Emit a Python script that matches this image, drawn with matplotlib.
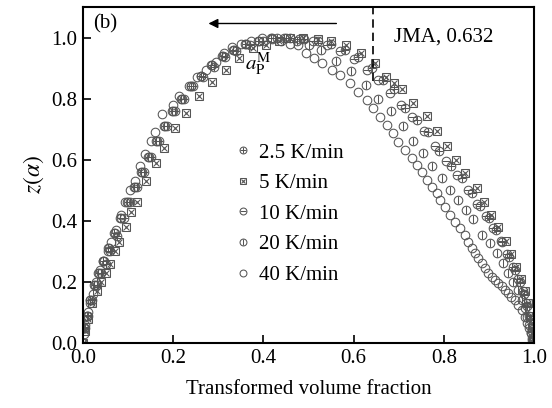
import matplotlib
matplotlib.use("Agg")
import matplotlib.pyplot as plt
from matplotlib.lines import Line2D
from matplotlib.legend_handler import HandlerTuple

plt.rcParams['font.family'] = ['Liberation Serif', 'DejaVu Serif']
plt.rcParams['mathtext.fontset'] = 'stix'

labels = ["2.5 K/min", "5 K/min", "10 K/min", "20 K/min", "40 K/min"]

# 2.5 K/min
a_25 = [0.0, 0.004, 0.01, 0.02, 0.03, 0.04, 0.05, 0.06, 0.075, 0.09, 0.105, 0.12, 0.135, 0.15,
        0.168, 0.186, 0.205, 0.225, 0.245, 0.265, 0.29, 0.315, 0.34, 0.37, 0.4, 0.43, 0.46, 0.49,
        0.52, 0.55, 0.58, 0.61, 0.64, 0.665, 0.69, 0.715, 0.74, 0.765, 0.79, 0.815, 0.84, 0.862,
        0.88, 0.9, 0.915, 0.93, 0.945, 0.958, 0.968, 0.977, 0.985, 0.991, 0.996, 0.999]
z_25 = [0.0, 0.05, 0.09, 0.14, 0.19, 0.23, 0.26, 0.30, 0.35, 0.41, 0.46, 0.51, 0.56, 0.61,
        0.66, 0.71, 0.76, 0.80, 0.84, 0.87, 0.905, 0.935, 0.955, 0.975, 0.99, 1.0, 1.0, 0.995,
        0.99, 0.98, 0.96, 0.935, 0.90, 0.86, 0.83, 0.77, 0.73, 0.69, 0.63, 0.58, 0.54, 0.49,
        0.45, 0.41, 0.37, 0.33, 0.28, 0.24, 0.20, 0.16, 0.12, 0.08, 0.04, 0.01]

# 5 K/min
a_5 = [0.0, 0.005, 0.01, 0.02, 0.03, 0.04, 0.05, 0.06, 0.07, 0.08, 0.095, 0.107, 0.12, 0.14,
       0.162, 0.18, 0.204, 0.229, 0.258, 0.287, 0.318, 0.347, 0.376, 0.406, 0.435, 0.46, 0.487,
       0.52, 0.55, 0.584, 0.617, 0.647, 0.671, 0.689, 0.708, 0.732, 0.762, 0.784, 0.806, 0.828,
       0.847, 0.873, 0.89, 0.905, 0.92, 0.937, 0.95, 0.961, 0.971, 0.979, 0.986, 0.991, 0.995, 0.998]
z_5 = [0.0, 0.04, 0.08, 0.13, 0.17, 0.20, 0.23, 0.26, 0.30, 0.33, 0.38, 0.43, 0.46, 0.53,
       0.59, 0.64, 0.705, 0.754, 0.807, 0.856, 0.895, 0.934, 0.967, 0.977, 0.99, 1.0, 1.0,
       0.995, 0.99, 0.977, 0.95, 0.917, 0.87, 0.85, 0.83, 0.786, 0.742, 0.693, 0.644, 0.60,
       0.556, 0.507, 0.46, 0.42, 0.38, 0.335, 0.29, 0.25, 0.21, 0.17, 0.13, 0.09, 0.05, 0.01]

# 10 K/min
a_10 = [0.0, 0.003, 0.008, 0.016, 0.026, 0.036, 0.046, 0.057, 0.07, 0.085, 0.1, 0.115, 0.13, 0.146,
        0.163, 0.181, 0.2, 0.22, 0.24, 0.262, 0.285, 0.31, 0.335, 0.362, 0.39, 0.42, 0.45, 0.48,
        0.51, 0.54, 0.57, 0.60, 0.63, 0.655, 0.68, 0.705, 0.73, 0.755, 0.78, 0.805, 0.83, 0.853,
        0.873, 0.893, 0.91, 0.926, 0.941, 0.954, 0.965, 0.975, 0.983, 0.99, 0.995, 0.999]
z_10 = [0.0, 0.05, 0.09, 0.14, 0.19, 0.23, 0.27, 0.31, 0.36, 0.41, 0.46, 0.51, 0.56, 0.61,
        0.66, 0.71, 0.76, 0.80, 0.84, 0.875, 0.91, 0.94, 0.96, 0.98, 0.99, 1.0, 1.0, 0.995,
        0.99, 0.975, 0.955, 0.93, 0.895, 0.86, 0.82, 0.78, 0.74, 0.695, 0.645, 0.595, 0.55, 0.50,
        0.455, 0.415, 0.375, 0.335, 0.29, 0.25, 0.21, 0.17, 0.13, 0.09, 0.05, 0.015]

# 20 K/min
a_20 = [0.0, 0.003, 0.008, 0.015, 0.024, 0.034, 0.044, 0.055, 0.068, 0.082, 0.097, 0.112, 0.128,
        0.144, 0.161, 0.179, 0.198, 0.218, 0.239, 0.261, 0.284, 0.308, 0.333, 0.36, 0.388, 0.417,
        0.446, 0.475, 0.502, 0.528, 0.561, 0.595, 0.628, 0.655, 0.684, 0.71, 0.732, 0.754, 0.773,
        0.795, 0.813, 0.832, 0.85, 0.865, 0.884, 0.902, 0.917, 0.932, 0.943, 0.954, 0.965, 0.973,
        0.98, 0.985, 0.99, 0.993, 0.996]
z_20 = [0.0, 0.05, 0.09, 0.14, 0.19, 0.23, 0.27, 0.31, 0.36, 0.41, 0.46, 0.51, 0.56, 0.61,
        0.66, 0.71, 0.76, 0.80, 0.84, 0.875, 0.91, 0.94, 0.96, 0.98, 0.99, 1.0, 1.0, 0.99, 0.975,
        0.958, 0.922, 0.89, 0.846, 0.80, 0.758, 0.709, 0.66, 0.622, 0.578, 0.54, 0.502, 0.469,
        0.436, 0.405, 0.354, 0.327, 0.294, 0.261, 0.229, 0.201, 0.174, 0.141, 0.114, 0.086,
        0.059, 0.032, 0.01]

# 40 K/min
a_40 = [0.0, 0.002, 0.005, 0.011, 0.016, 0.022, 0.029, 0.037, 0.044, 0.055, 0.063, 0.073, 0.084,
        0.093, 0.104, 0.116, 0.126, 0.138, 0.15, 0.16, 0.176, 0.2, 0.213, 0.236, 0.253, 0.273,
        0.295, 0.313, 0.33, 0.35, 0.373, 0.398, 0.42, 0.44, 0.458, 0.476, 0.495, 0.513, 0.531,
        0.551, 0.569, 0.591, 0.609, 0.629, 0.642, 0.658, 0.673, 0.687, 0.698, 0.713, 0.729, 0.74,
        0.751, 0.762, 0.773, 0.784, 0.791, 0.802, 0.813, 0.824, 0.836, 0.847, 0.854, 0.862, 0.869,
        0.876, 0.884, 0.891, 0.898, 0.906, 0.913, 0.921, 0.928, 0.936, 0.943, 0.95, 0.958, 0.965,
        0.973, 0.98, 0.985, 0.99, 0.993, 0.995, 0.998]
z_40 = [0.0, 0.03, 0.06, 0.10, 0.13, 0.16, 0.20, 0.24, 0.27, 0.30, 0.33, 0.37, 0.42,
        0.46, 0.50, 0.53, 0.58, 0.62, 0.66, 0.69, 0.75, 0.78, 0.81, 0.84, 0.87, 0.895,
        0.92, 0.95, 0.97, 0.98, 0.99, 1.0, 0.995, 0.99, 0.98, 0.977, 0.95, 0.934, 0.918,
        0.895, 0.879, 0.852, 0.823, 0.797, 0.77, 0.741, 0.715, 0.689, 0.659, 0.633, 0.607, 0.584,
        0.561, 0.534, 0.511, 0.492, 0.469, 0.446, 0.420, 0.397, 0.377, 0.355, 0.330, 0.31, 0.294,
        0.278, 0.261, 0.245, 0.229, 0.217, 0.207, 0.196, 0.185, 0.174, 0.163, 0.152, 0.141, 0.125,
        0.108, 0.086, 0.065, 0.048, 0.032, 0.015, 0.003]

xticks = [0.0, 0.2, 0.4, 0.6, 0.8, 1.0]
yticks = [0.0, 0.2, 0.4, 0.6, 0.8, 1.0]
jma_alpha = 0.643

col = '#555555'
lw = 0.75

fig = plt.figure(figsize=(5.52, 4.08), dpi=100)
ax = fig.add_axes([83/552, 65/408, 451/552, 336/408])

series = [
    (a_25, z_25, [('o', 6.2), ('+', 6.2)]),
    (a_5, z_5, [('s', 5.4), ('x', 4.4), ('.', 1.5)]),
    (a_10, z_10, [('o', 6.2), ('_', 6.2)]),
    (a_20, z_20, [('o', 6.2), ('|', 6.2)]),
    (a_40, z_40, [('o', 6.2)]),
]

handles = []
for (a, z, mks), lab in zip(series, labels):
    hs = []
    for m, ms in mks:
        ax.plot(a, z, linestyle='none', marker=m, markersize=ms, markerfacecolor='none',
                markeredgecolor=col, markeredgewidth=lw)
        hs.append(Line2D([], [], linestyle='none', marker=m, markersize=ms * 0.8,
                         markerfacecolor='none', markeredgecolor=col, markeredgewidth=lw))
    handles.append(tuple(hs))

ax.legend(handles, labels, handler_map={tuple: HandlerTuple(ndivide=1, pad=0)},
          loc='upper left', bbox_to_anchor=(0.305, 0.645), frameon=False, fontsize=15,
          handlelength=0.6, handletextpad=0.45, labelspacing=0.53, borderpad=0.3)

ax.axvline(jma_alpha, ymin=0.78, ymax=1.0, color='black', linestyle=(0, (5, 3)), linewidth=1.2)
ax.annotate('', xy=(0.272, 1.046), xytext=(0.568, 1.046),
            arrowprops=dict(arrowstyle='-|>', color='black', lw=1.0, mutation_scale=14))
ax.text(0.69, 1.0, 'JMA, 0.632', fontsize=15, va='center', ha='left')
ax.text(0.022, 1.045, '(b)', fontsize=15, va='center', ha='left')
ax.text(0.36, 0.915, r'$a_{\mathrm{P}}^{\mathrm{M}}$', fontsize=15, va='center', ha='left')

ax.set_xlim(0, 1.0)
ax.set_ylim(0, 1.1)
ax.set_xticks(xticks)
ax.set_yticks(yticks)
ax.set_xticklabels([f'{v:.1f}' for v in xticks])
ax.set_yticklabels([f'{v:.1f}' for v in yticks])
ax.tick_params(direction='in', length=6, width=1.2, labelsize=15, pad=4)
for s in ax.spines.values():
    s.set_linewidth(1.5)

ax.set_xlabel('Transformed volume fraction', fontsize=15, labelpad=9)
ax.set_ylabel(r'$z(\alpha)$', fontsize=17, labelpad=4)

fig.savefig('out.png', dpi=100)
